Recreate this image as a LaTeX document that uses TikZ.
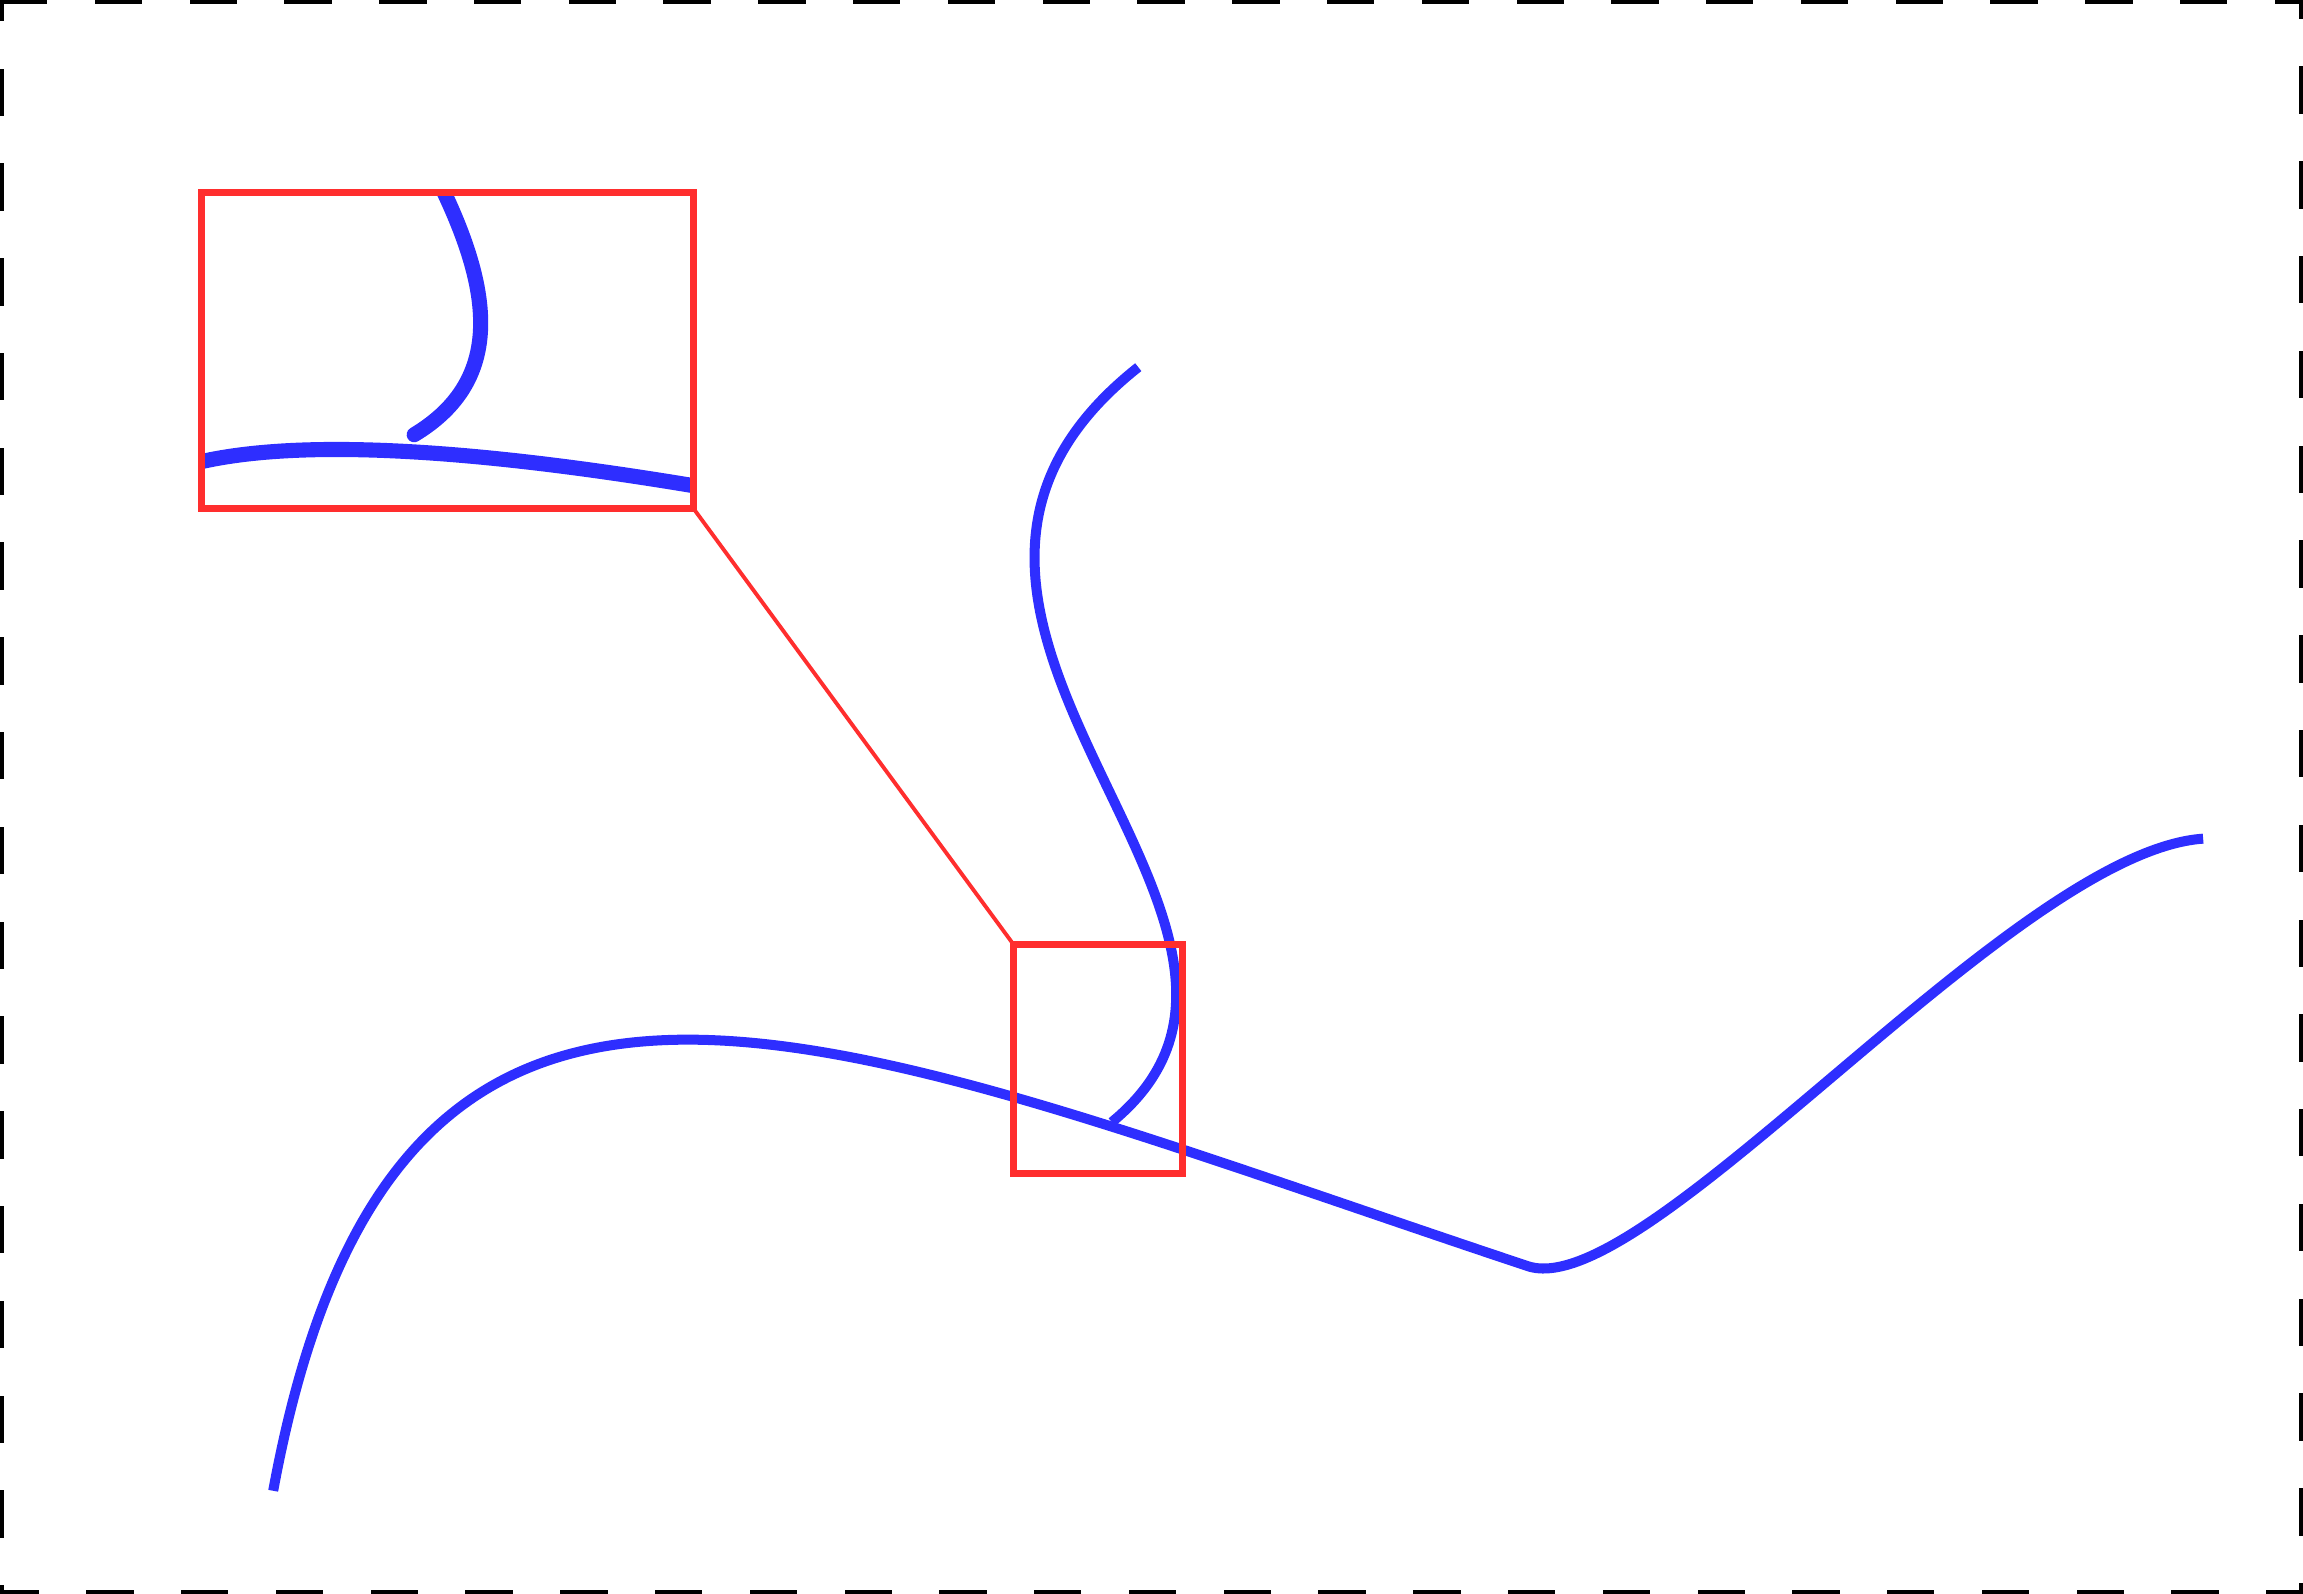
\documentclass[tikz,border=0pt]{standalone}
\usetikzlibrary{calc}

\definecolor{curveblue}{RGB}{46,46,255}
\definecolor{lensred}{RGB}{255,46,46}

\tikzset{
  frameline/.style={line width=2.1pt, dash pattern=on 13.49pt off 13.49pt},
  curveline/.style={curveblue, line width=2.85pt},
  bigcurveline/.style={curveblue, line width=4.3pt},
  lensbox/.style={draw=lensred, line width=1.9pt},
  lensline/.style={lensred, line width=1.1pt}
}

\begin{document}
\begin{tikzpicture}[x=0.0146875cm, y=-0.0146875cm]
  \useasboundingbox (0,0) rectangle (1568,1085);
  \draw[frameline] (0,0) -- (1568,0) -- (1568,1085) -- (0,1085) -- cycle;

  % the two curves
  \draw[curveline] (186,1015) .. controls (270,560) and (560,702) .. (1040,862)
                   .. controls (1120,889) and (1370,580) .. (1500,571);
  \draw[curveline] (775,250) .. controls (560,420) and (920,630) .. (757,764);

  % spot and its enlarged view
  \coordinate (spotNW) at (690,643);
  \coordinate (spotSE) at (805,799);
  \coordinate (viewNW) at (137,131);
  \coordinate (viewSE) at (472,346);

  \begin{scope}
    \clip (viewNW) rectangle (viewSE);
    \draw[bigcurveline, line cap=round] (296,118) .. controls (335,195) and (345,258) .. (282,296);
    \draw[bigcurveline] (130,316) .. controls (200,298) and (320,305) .. (480,332);
  \end{scope}

  \draw[lensbox] (spotNW) rectangle (spotSE);
  \draw[lensbox] (viewNW) rectangle (viewSE);
  \draw[lensline] (viewSE) -- (spotNW);
\end{tikzpicture}
\end{document}
